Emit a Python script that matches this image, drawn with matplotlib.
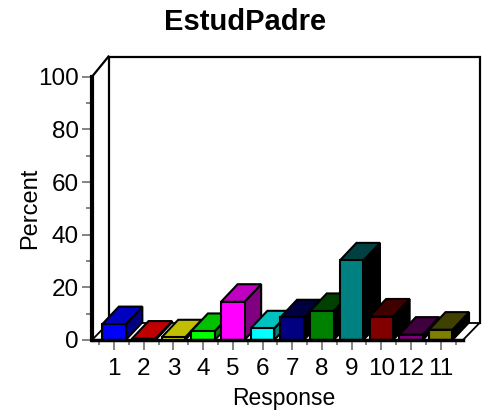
import matplotlib
matplotlib.use("Agg")
import matplotlib.pyplot as plt
from matplotlib.patches import Polygon, Rectangle
import numpy as np

plt.rcParams['font.family'] = ['Liberation Sans', 'DejaVu Sans']

# ---- data ----
categories = ['1', '2', '3', '4', '5', '6', '7', '8', '9', '10', '12', '11']
values = [6.0, 0.5, 1.0, 3.4, 14.5, 4.4, 8.6, 11.0, 30.2, 8.9, 2.0, 3.9]
front_colors = ['#0000FF', '#FF0000', '#FFFF00', '#00FF00', '#FF00FF', '#00FFFF',
                '#000080', '#008000', '#008080', '#800000', '#800080', '#808000']
top_colors = ['#0000C0', '#C00000', '#C0C000', '#00C000', '#C000C0', '#00C0C0',
              '#000040', '#004000', '#004040', '#400000', '#400040', '#404000']
side_colors = ['#000080', '#800000', '#808000', '#008000', '#800080', '#008080',
               '#000000', '#000000', '#000000', '#000000', '#000000', '#000000']
yticks_major = [0, 20, 40, 60, 80, 100]
yticks_minor = [10, 30, 50, 70, 90]
title = 'EstudPadre'
xlabel = 'Response'
ylabel = 'Percent'

W, H = 488, 413
fig = plt.figure(figsize=(W / 100, H / 100), dpi=100)

# front plotting rectangle (pixels): x 92..463, y 76.7..340 (from top)
x0px, x1px, ytop, ybot = 92, 463, 76.7, 340
ax = fig.add_axes([x0px / W, (H - ybot) / H, (x1px - x0px) / W, (ybot - ytop) / H])
pxcat = 29.7
xmin = (x0px - 114) / pxcat
xmax = (x1px - 114) / pxcat
ax.set_xlim(xmin, xmax)
ax.set_ylim(0, 100)
pxpct = (ybot - ytop) / 100.0

# depth offsets
pdx = 16.5 / pxcat          # panel depth in x units
pdy_top = 20.2 / pxpct      # panel top offset
pdy_floor = 17.0 / pxpct    # floor back offset
bdx = 16.6 / pxcat          # bar depth x
bdy = 17.6 / pxpct          # bar depth y
bw = 23.5 / pxcat           # bar width

# floor
floor = Polygon([(xmin, 0), (xmax, 0), (xmax + pdx, pdy_floor), (xmin + pdx, pdy_floor)],
                closed=True, facecolor='white', edgecolor='black', lw=1.3,
                clip_on=False, zorder=1)
ax.add_patch(floor)
# back panel
ax.plot([xmin + pdx, xmin + pdx, xmax + pdx, xmax + pdx],
        [pdy_floor, 100 + pdy_top, 100 + pdy_top, pdy_floor],
        color='black', lw=1.6, clip_on=False, zorder=1, solid_joinstyle='miter')
ax.plot([xmin, xmin + pdx], [100, 100 + pdy_top], color='black', lw=1.6,
        clip_on=False, zorder=1)

# bars
for i, v in enumerate(values):
    l, r = i - bw / 2, i + bw / 2
    side = Polygon([(r, 0), (r + bdx, bdy), (r + bdx, v + bdy), (r, v)], closed=True,
                   facecolor=side_colors[i], edgecolor='black', lw=1.5,
                   joinstyle='miter', clip_on=False, zorder=2 + i)
    top = Polygon([(l, v), (r, v), (r + bdx, v + bdy), (l + bdx, v + bdy)], closed=True,
                  facecolor=top_colors[i], edgecolor='black', lw=1.5,
                  joinstyle='miter', clip_on=False, zorder=2 + i)
    front = Rectangle((l, 0), bw, v, facecolor=front_colors[i], edgecolor='black',
                      lw=1.5, joinstyle='miter', clip_on=False, zorder=2 + i)
    ax.add_patch(side)
    ax.add_patch(top)
    ax.add_patch(front)

# floor front edge
ax.plot([xmin, xmax], [0, 0], color='black', lw=2.5, clip_on=False, zorder=30)

# spines / ticks
for s in ['top', 'right', 'bottom']:
    ax.spines[s].set_visible(False)
ax.spines['left'].set_linewidth(3)
ax.spines['left'].set_zorder(31)
ax.set_facecolor('none')

ax.set_yticks(yticks_major)
ax.set_yticks(yticks_minor, minor=True)
ax.set_yticklabels([str(t) for t in yticks_major])
ax.set_xticks(range(len(categories)))
ax.set_xticklabels(categories)
ax.set_xticks(np.arange(-0.5, len(categories), 1.0), minor=True)

ax.tick_params(axis='y', which='major', length=7.5, width=1.2, color='#707070',
               labelsize=17.5, pad=2)
ax.tick_params(axis='y', which='minor', length=4, width=1.2, color='#707070')
ax.tick_params(axis='x', which='major', length=7, width=1.2, color='#707070',
               labelsize=17.5, pad=6)
ax.tick_params(axis='x', which='minor', length=3.5, width=1.2, color='#707070')

fig.text(245 / W, (H - 22) / H, title, ha='center', va='center', fontsize=21,
         fontweight='bold')
fig.text(284 / W, (H - 398) / H, xlabel, ha='center', va='center', fontsize=16.5)
fig.text(30 / W, (H - 208) / H, ylabel, ha='center', va='center', fontsize=17,
         rotation=90)

fig.savefig('out.png', dpi=100)
